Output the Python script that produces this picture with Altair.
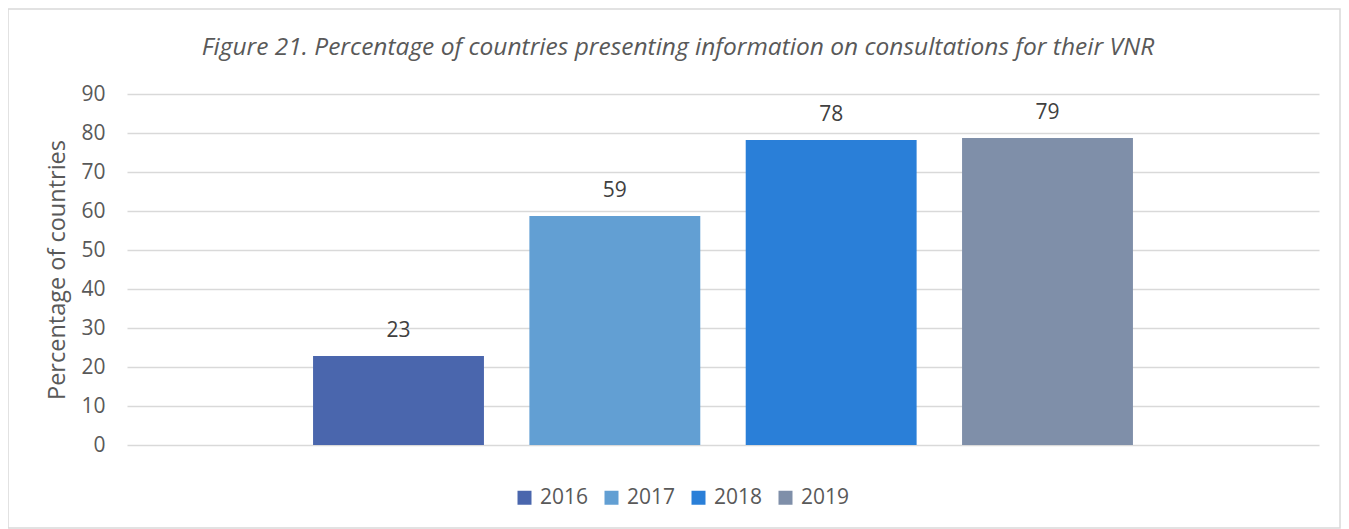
import altair as alt
import pandas as pd

years = ["2016", "2017", "2018", "2019"]
values = [22.8, 58.7, 78.2, 78.7]
colors = ["#4a66ad", "#629fd3", "#2a7fd8", "#7f8fa9"]
y_ticks = [0, 10, 20, 30, 40, 50, 60, 70, 80, 90]

df = pd.DataFrame({"year": years, "value": values})

FONT = "Open Sans"
W, H = 1192, 351
PL, PT, PR, PB = 119, 86, 22, 84

xenc = alt.X("year:N", axis=None,
             scale=alt.Scale(paddingInner=0.21, paddingOuter=0.86))
yenc = alt.Y("value:Q",
             scale=alt.Scale(domain=[0, 90], nice=False),
             axis=alt.Axis(values=y_ticks, title="Percentage of countries",
                           grid=True, gridColor="#d9d9d9", gridWidth=1.5,
                           domain=False, ticks=False, labelPadding=22,
                           labelFontSize=21, labelColor="#595959", labelFont=FONT,
                           titleFontSize=23.5, titleColor="#595959", titleFont=FONT,
                           titleFontWeight="normal", titlePadding=11))

bars = alt.Chart(df).mark_bar().encode(
    x=xenc,
    y=yenc,
    color=alt.Color("year:N",
                    scale=alt.Scale(domain=years, range=colors),
                    legend=alt.Legend(title=None, orient="none", direction="horizontal",
                                      legendX=387, legendY=393,
                                      symbolType="square", symbolSize=196,
                                      symbolStrokeWidth=0, labelFont=FONT,
                                      labelFontSize=21, labelColor="#595959",
                                      labelOffset=5, columnPadding=12)),
)

labels = alt.Chart(df).mark_text(dy=-25, baseline="middle", font=FONT,
                                 fontSize=21, color="#404040").encode(
    x=xenc,
    y=yenc,
    text=alt.Text("value:Q", format=".0f"),
)

border = alt.Chart(alt.Data(values=[{}])).mark_rect(
    fill=None, stroke="#d9d9d9", strokeWidth=1.5).encode(
    x=alt.value(-PL + 0), x2=alt.value(W + PR - 1),
    y=alt.value(-PT + 1), y2=alt.value(H + PB - 1),
)

chart = alt.layer(border, bars, labels).properties(
    width=W, height=H,
    autosize=alt.AutoSizeParams(type="none"),
    padding={"left": PL, "top": PT, "right": PR, "bottom": PB},
    title=alt.Title("Figure 21. Percentage of countries presenting information on consultations for their VNR",
                    font=FONT, fontSize=24.5, fontStyle="italic", fontWeight="normal",
                    color="#595959", anchor="middle", offset=-52, dx=-45),
).configure_view(stroke=None)

chart.save("out.html", embed_options={"renderer": "svg", "actions": False})
